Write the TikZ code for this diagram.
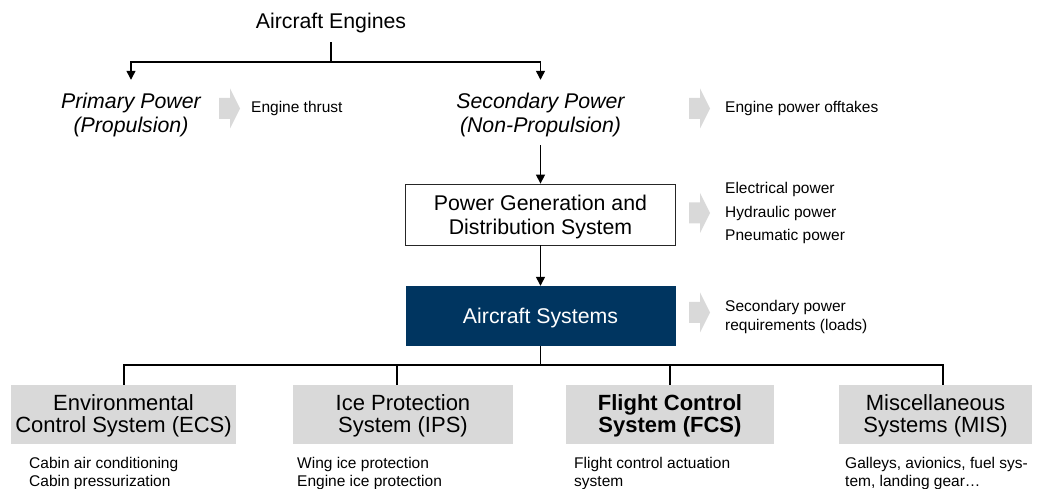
\documentclass[tikz,border=0pt]{standalone}
\usepackage{fontspec}
\setmainfont{Liberation Sans}
\usetikzlibrary{arrows.meta}

\definecolor{navy}{HTML}{003560}
\definecolor{boxgray}{HTML}{D9D9D9}

% struts that keep line spacing fixed and centre the capitals of each block
\setlength{\lineskiplimit}{-100pt}
\newcommand\bstrut{\rule[-4.4pt]{0pt}{24pt}}
\newcommand\cstrut{\rule[-3.1pt]{0pt}{22pt}}

% light grey block arrow pointing right; #1 = left end, vertical middle
\newcommand\chevron[1]{%
  \fill[boxgray] (#1) ++(0,-10.5) -- ++(11,0) -- ++(0,-9.5) -- ++(10,20)
    -- ++(-10,20) -- ++(0,-9.5) -- ++(-11,0) -- cycle;}

\begin{document}
\begin{tikzpicture}[x=1pt,y=-1pt,
  big/.style={font=\fontsize{21.3}{24}\selectfont, inner sep=0pt, align=center},
  bigit/.style={big, font=\fontsize{21.3}{24}\selectfont\itshape},
  subsys/.style={fill=boxgray, inner sep=0pt, minimum height=59pt, align=center,
    font=\fontsize{22}{22}\selectfont},
  small/.style={font=\fontsize{15.5}{18.5}\selectfont, inner sep=0pt, align=left,
    anchor=north west},
  link/.style={line width=1.3pt},
  arr/.style={link, -{Triangle[width=9pt,length=9pt]}}]

\useasboundingbox (0,0) rectangle (1037,489);

% ---- engines and their two kinds of power
\node[big] (title) at (331,21.4) {\bstrut Aircraft Engines};
\node[bigit] (primary) at (131,113.4) {\bstrut Primary Power\\\bstrut (Propulsion)};
\node[bigit] (secondary) at (540.5,113.4) {\bstrut Secondary Power\\\bstrut (Non-Propulsion)};

\coordinate (fork) at (331,62);
\draw[link, shorten <=8.6pt] (title.south) -- (fork);
\draw[arr, shorten >=9.4pt] (fork) -| (primary.north);
\draw[arr, shorten >=9.4pt] (fork) -| (secondary.north);

\chevron{219,108.5}
\node[small] (thrust) at (251,99) {\strut Engine thrust};
\chevron{689,108.5}
\node[small] (offtakes) at (725,99) {\strut Engine power offtakes};

% ---- power generation and the systems it feeds
\node[big, draw=black!85, line width=0.8pt, minimum width=270pt, minimum height=61pt]
  (pgds) at (540.5,214.5) {\bstrut Power Generation and\\\bstrut Distribution System};
\node[big, fill=navy, text=white, minimum width=270pt, minimum height=60pt]
  (sys) at (540.5,316) {\bstrut Aircraft Systems};

\draw[arr, shorten <=7.6pt] (secondary.south) -- (pgds.north);
\draw[arr] (pgds.south) -- (sys.north);

\chevron{689,213}
\node[small, font=\fontsize{15.5}{23.5}\selectfont] (power) at (725,177)
  {\strut Electrical power\\\strut Hydraulic power\\\strut Pneumatic power};
\chevron{689,312.5}
\node[small] (loads) at (725,298.7)
  {\strut Secondary power\\\strut requirements (loads)};

% ---- the four consumer systems
\node[subsys, minimum width=225pt] (ecs) at (123.5,414.5)
  {\cstrut Environmental\\\cstrut Control System (ECS)};
\node[subsys, minimum width=220pt] (ips) at (403,414.5)
  {\cstrut Ice Protection\\\cstrut System (IPS)};
\node[subsys, minimum width=208pt, font=\fontsize{22}{22}\selectfont\bfseries] (fcs) at (670,414.5)
  {\cstrut Flight Control\\\cstrut System (FCS)};
\node[subsys, minimum width=193pt] (mis) at (935.5,414.5)
  {\cstrut Miscellaneous\\\cstrut Systems (MIS)};

\coordinate (bus) at (540.5,365);
\draw[link] (sys.south) -- (bus);
\draw[link] ([xshift=0.5pt]ecs.north) |- (bus);
\draw[link] ([xshift=-6pt]ips.north) |- (bus);
\draw[link] (fcs.north) |- (bus);
\draw[link] ([xshift=7.5pt]mis.north) |- (bus);

\node[small] (ecsuse) at (29,455) {\strut Cabin air conditioning\\\strut Cabin pressurization};
\node[small] (ipsuse) at (297,455) {\strut Wing ice protection\\\strut Engine ice protection};
\node[small] (fcsuse) at (574,455) {\strut Flight control actuation\\\strut system};
\node[small] (misuse) at (845,455) {\strut Galleys, avionics, fuel sys-\\\strut tem, landing gear…};
\end{tikzpicture}
\end{document}
